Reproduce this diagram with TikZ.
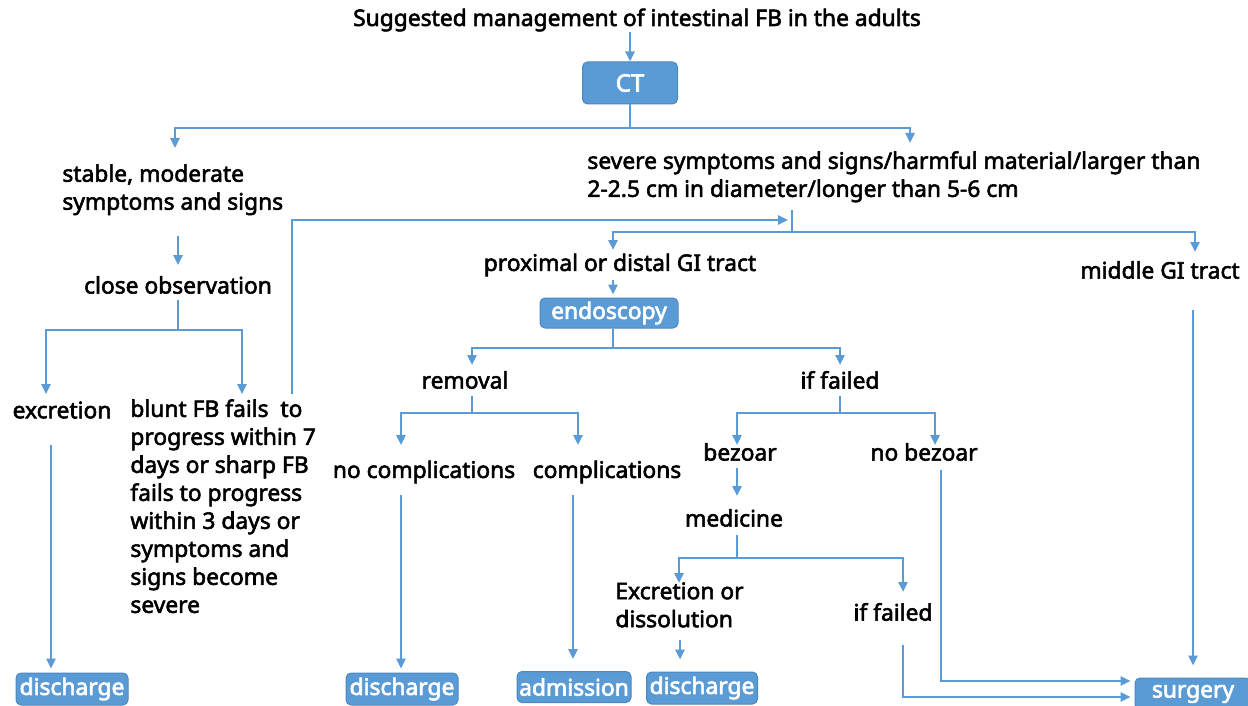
\documentclass[tikz,border=0pt]{standalone}
\usepackage{fontspec}
\setmainfont{Noto Sans}
\newfontfamily\lblfont{Noto Sans}[FakeBold=2.4]
\newfontfamily\bxfont{Noto Sans}[FakeBold=2.8]
\usetikzlibrary{arrows.meta}
\definecolor{lineblue}{HTML}{5B9BD5}
\definecolor{boxblue}{HTML}{5B9BD5}
\definecolor{boxedge}{HTML}{4A88C4}
\begin{document}
\begin{tikzpicture}[x=0.5pt,y=-0.5pt,
  lbl/.style={font=\lblfont\fontsize{11.4}{14}\selectfont, inner sep=0pt, text=black},
  mlbl/.style={lbl, align=left, anchor=north west},
  bx/.style={rounded corners=2.5pt, fill=boxblue, draw=boxedge, line width=0.5pt, text=white,
    font=\bxfont\fontsize{11.4}{12}\selectfont, inner sep=0pt, minimum height=16pt},
  ln/.style={draw=lineblue, line width=1.2pt},
  arr/.style={ln, -{Triangle[length=5pt,width=4.5pt]}}]
\useasboundingbox (0,0) rectangle (1248,706);
\begin{scope}
\clip (0,0) rectangle (1248,706);
% nodes
\node[lbl] (title) at (637,20) {Suggested management of intestinal FB in the adults};
\node[bx, minimum width=47.5pt, minimum height=21pt, font=\bxfont\fontsize{12}{12}\selectfont] (ct) at (630,83) {CT};
\node[mlbl] (stable) at (62,164) {stable, moderate\\symptoms and signs};
\node[mlbl] (severe) at (587,151) {severe symptoms and signs/harmful material/larger than\\2-2.5 cm in diameter/longer than 5-6 cm};
\node[lbl] (close) at (178,285) {close observation};
\node[lbl] (excr) at (62,410) {excretion};
\node[mlbl] (blunt) at (130,399) {blunt FB fails\ \ to\\progress within 7\\days or sharp FB\\fails to progress\\within 3 days or\\symptoms and\\signs become\\severe};
\node[lbl] (prox) at (620,265) {proximal or distal GI tract};
\node[lbl] (middle) at (1160,270) {middle GI tract};
\node[bx, minimum width=69pt, minimum height=15pt] (endo) at (609,313) {endoscopy};
\node[lbl] (removal) at (465,380) {removal};
\node[lbl] (fail1) at (840,380) {if failed};
\node[lbl] (nocomp) at (424,472) {no complications};
\node[lbl] (comp) at (607,472) {complications};
\node[lbl] (bezoar) at (740,452) {bezoar};
\node[lbl] (nobez) at (924,452) {no bezoar};
\node[lbl] (medicine) at (734,518) {medicine};
\node[mlbl] (excr2) at (615,582) {Excretion or\\dissolution};
\node[lbl] (fail2) at (893,612) {if failed};
\node[bx, minimum width=56pt] (dis1) at (72,689) {discharge};
\node[bx, minimum width=56pt] (dis2) at (402,689) {discharge};
\node[bx, minimum width=57pt, minimum height=15.5pt] (adm) at (574,687) {admission};
\node[bx, minimum width=55.5pt] (dis3) at (702,688) {discharge};
\node[bx, minimum width=58pt] (surg) at (1193,694) {surgery};
% junction coordinates
\coordinate (j1) at (630,128);
\coordinate (tStable) at (175,148);
\coordinate (tSevere) at (910,143);
\coordinate (sA) at (178,236);
\coordinate (sB) at (178,265);
\coordinate (c1) at (178,300);
\coordinate (c2) at (178,330);
\coordinate (tExcr) at (46,394);
\coordinate (tBlunt) at (242,394);
\coordinate (b1) at (292,394);
\coordinate (b2) at (292,220);
\coordinate (b3) at (788,220);
\coordinate (v1) at (792,210);
\coordinate (v2) at (792,232);
\coordinate (tProx) at (613,250);
\coordinate (tMid) at (1195,252);
\coordinate (p1) at (613,280);
\coordinate (e1) at (613,348);
\coordinate (tRem) at (472,365);
\coordinate (tFail) at (840,365);
\coordinate (r1) at (472,396);
\coordinate (r2) at (472,413);
\coordinate (tNoc) at (401,445);
\coordinate (tComp) at (578,445);
\coordinate (f1) at (840,396);
\coordinate (f2) at (840,413);
\coordinate (tBez) at (737,445);
\coordinate (tNob) at (935,445);
\coordinate (bz1) at (737,468);
\coordinate (bz2) at (737,496);
\coordinate (m1) at (737,535);
\coordinate (m2) at (737,558);
\coordinate (tEx2) at (679,583);
\coordinate (tF2) at (903,592);
\coordinate (ex1) at (51,445);
\coordinate (nc1) at (401,495);
\coordinate (cp1) at (573,495);
\coordinate (x21) at (680,640);
\coordinate (ff1) at (903,645);
\coordinate (ff2) at (903,697);
\coordinate (nb1) at (941,470);
\coordinate (nb2) at (941,681);
\coordinate (md1) at (1193,310);
% connectors
\draw[arr] (title.south -| ct.north) -- (ct.north);
\draw[ln] (ct.south) -- (j1);
\draw[arr] (j1) -| (tStable);
\draw[arr] (j1) -| (tSevere);
\draw[arr] (sA) -- (sB);
\draw[ln] (c1) -- (c2);
\draw[arr] (c2) -| (tExcr);
\draw[arr] (c2) -| (tBlunt);
\draw[arr] (b1) -- (b2) -- (b3);
\draw[ln] (v1) -- (v2);
\draw[arr] (v2) -| (tProx);
\draw[arr] (v2) -| (tMid);
\draw[arr, shorten >=1.5pt] (p1) -- (endo.north -| p1);
\draw[ln] (endo.south -| e1) -- (e1);
\draw[arr] (e1) -| (tRem);
\draw[arr] (e1) -| (tFail);
\draw[ln] (r1) -- (r2);
\draw[arr] (r2) -| (tNoc);
\draw[arr] (r2) -| (tComp);
\draw[ln] (f1) -- (f2);
\draw[arr] (f2) -| (tBez);
\draw[arr] (f2) -| (tNob);
\draw[arr] (bz1) -- (bz2);
\draw[ln] (m1) -- (m2);
\draw[arr] (m2) -| (tEx2);
\draw[arr] (m2) -| (tF2);
\draw[arr, shorten >=2pt] (ex1) -- (ex1 |- dis1.north);
\draw[arr, shorten >=2pt] (nc1) -- (nc1 |- dis2.north);
\draw[arr, shorten >=6pt] (cp1) -- (cp1 |- adm.north);
\draw[arr, shorten >=6pt] (x21) -- (x21 |- dis3.north);
\draw[arr, shorten >=2pt] (ff1) -- (ff2) -- (ff2 -| surg.west);
\draw[arr, shorten >=2pt] (nb1) -- (nb2) -- (nb2 -| surg.west);
\draw[arr, shorten >=6pt] (md1) -- (md1 |- surg.north);
\end{scope}
\end{tikzpicture}
\end{document}
